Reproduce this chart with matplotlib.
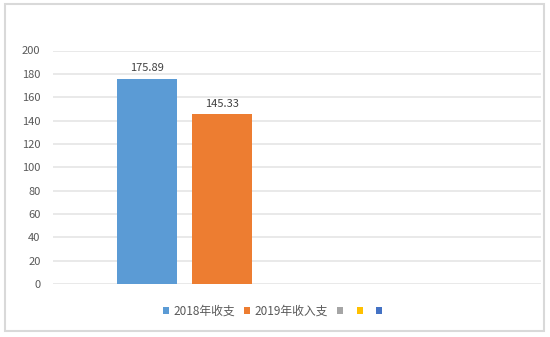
import numpy as np
import matplotlib.pyplot as plt
from matplotlib.patches import Patch, Rectangle

plt.rcParams['font.family'] = ['Noto Sans CJK SC', 'DejaVu Sans']

series = ["2018年收支", "2019年收入支", "", "", ""]
values = [175.89, 145.33, np.nan, np.nan, np.nan]
colors = ["#5B9BD5", "#ED7D31", "#A5A5A5", "#FFC000", "#4472C4"]
yticks = [0, 20, 40, 60, 80, 100, 120, 140, 160, 180, 200]

fig = plt.figure(figsize=(5.5, 3.37), dpi=100)
ax = fig.add_axes([53 / 550, 1 - 284 / 337, 488 / 550, 233.5 / 337])

# chart border
fig.patches.append(Rectangle((4.5 / 550, 1 - 331 / 337), 539.5 / 550, 327 / 337,
                             transform=fig.transFigure, fill=False,
                             edgecolor="#d9d9d9", lw=1.5))

offsets = np.arange(len(series)) - 2
for off, v, c in zip(offsets, values, colors):
    if np.isnan(v):
        continue
    ax.bar(off, v, width=0.79, color=c, zorder=3)
    ax.text(off, v + 4.5, f"{v:.2f}", ha="center", va="bottom",
            fontsize=8, color="#404040")

ax.set_xlim(-3.25, 3.25)
ax.set_ylim(0, 200)
ax.set_yticks(yticks)
ax.set_yticklabels([str(t) for t in yticks])
ax.set_xticks([])
ax.tick_params(axis="y", length=0, labelsize=8, labelcolor="#595959", pad=9)
ax.grid(axis="y", color="#e3e3e3", lw=1.1, zorder=0)
for s in ax.spines.values():
    s.set_visible(False)

handles = [Patch(facecolor=c, edgecolor="none") for c in colors]
fig.legend(handles, series, loc="center", bbox_to_anchor=(275 / 550, 1 - 311 / 337),
           ncol=5, frameon=False, fontsize=8.5, handlelength=0.5, handleheight=0.5,
           handletextpad=0.4, columnspacing=0.75, labelcolor="#595959")

fig.savefig("out.png", dpi=100)
